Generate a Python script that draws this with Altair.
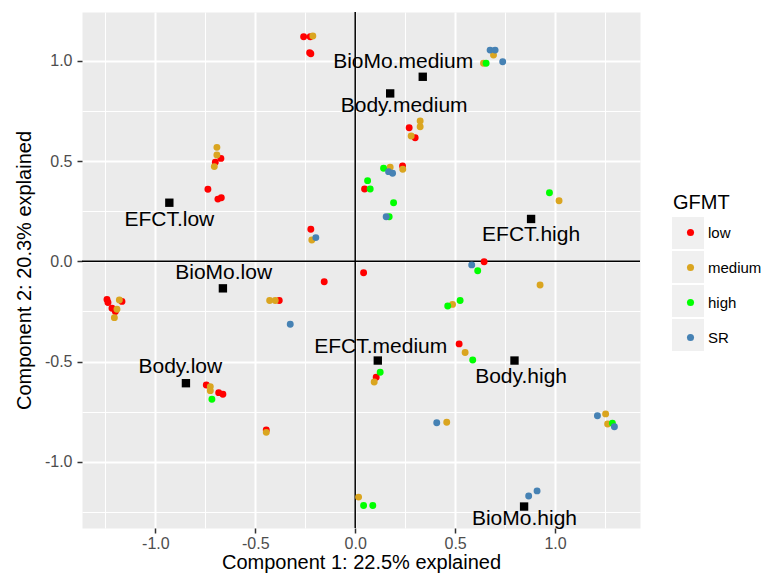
import altair as alt
import pandas as pd

low_x = [-0.258, -0.225, -0.228, -0.222, -0.672, -0.700, -0.737, -0.687, -0.670, -0.222,
         0.270, 0.300, 0.237, 0.047, 0.645, 0.042, -0.155,
         -1.242, -1.237, -1.217, -1.200, -1.167, -0.380,
         -0.745, -0.683, -0.662, -0.445, 0.520, 0.105]
low_y = [1.120, 1.120, 1.040, 1.035, 0.513, 0.494, 0.359, 0.310, 0.317, 0.160,
         0.666, 0.616, 0.475, 0.360, -0.002, -0.057, -0.102,
         -0.190, -0.206, -0.234, -0.251, -0.200, -0.196,
         -0.617, -0.655, -0.663, -0.841, -0.412, -0.578]

med_x = [-0.212, -0.692, -0.692, -0.705, -0.217, 0.692, 0.642, 0.325, 0.325, 0.280,
         0.175, 0.238, 1.020, -1.180, -1.192, -1.205, -0.428, -0.400, -0.725, -0.725,
         -0.445, 0.017, 0.925, 0.487, 0.550, 0.095, 0.458, 1.253, 1.263]
med_y = [1.123, 0.568, 0.530, 0.472, 0.106, 1.028, 0.987, 0.700, 0.671, 0.625,
         0.469, 0.459, 0.302, -0.193, -0.239, -0.281, -0.196, -0.196, -0.625, -0.645,
         -0.853, -1.176, -0.118, -0.215, -0.455, -0.602, -0.803, -0.761, -0.811]

high_x = [0.655, 0.142, 0.062, 0.075, 0.192, 0.170, 0.972, 0.613, -0.717, 0.042,
          0.088, 0.463, 0.525, 0.588, 0.125, 1.287]
high_y = [0.987, 0.464, 0.402, 0.360, 0.292, 0.222, 0.342, -0.047, -0.688, -1.218,
          -1.218, -0.223, -0.196, -0.492, -0.553, -0.808]

sr_x = [0.675, 0.700, 0.738, 0.167, 0.187, 0.155, -0.197, 0.583, -0.325, 0.408,
        1.212, 1.297, 0.868, 0.910]
sr_y = [1.053, 1.053, 0.995, 0.447, 0.439, 0.222, 0.118, -0.018, -0.314, -0.805,
        -0.770, -0.825, -1.170, -1.145]

groups = ["low", "medium", "high", "SR"]
group_colors = ["#FF0000", "#DAA520", "#00FF00", "#4682B4"]
key_ids = ["k1", "k2", "k3", "k4"]   # one grey legend key box per group

# ---- category centroids and their labels ----
cent_names = ["EFCT.low", "BioMo.low", "Body.low", "BioMo.medium", "Body.medium",
              "EFCT.medium", "EFCT.high", "Body.high", "BioMo.high"]
cent_x = [-0.930, -0.662, -0.847, 0.338, 0.175, 0.113, 0.880, 0.797, 0.845]
cent_y = [0.292, -0.135, -0.608, 0.920, 0.837, -0.495, 0.211, -0.495, -1.223]
lab_x = [-0.930, -0.658, -0.875, 0.240, 0.245, 0.128, 0.880, 0.830, 0.847]
lab_y = [0.206, -0.060, -0.526, 0.995, 0.774, -0.426, 0.131, -0.578, -1.286]

x_ticks = [-1.25, -1.0, -0.75, -0.5, -0.25, 0.0, 0.25, 0.5, 0.75, 1.0, 1.25]
y_ticks = [-1.25, -1.0, -0.75, -0.5, -0.25, 0.0, 0.25, 0.5, 0.75, 1.0]
x_domain = [-1.367, 1.425]
y_domain = [-1.33, 1.243]
zero_line = [0.0]

# ---- tables ----
rows = []
for g, k, xs_, ys_ in zip(groups, key_ids, [low_x, med_x, high_x, sr_x],
                          [low_y, med_y, high_y, sr_y]):
    for a, b in zip(xs_, ys_):
        rows.append({"x": a, "y": b, "GFMT": g, "key": k})
pts = pd.DataFrame(rows)
cents = pd.DataFrame({"name": cent_names, "x": cent_x, "y": cent_y, "lx": lab_x, "ly": lab_y})
zero = pd.DataFrame({"v": zero_line})

FONT = "Liberation Sans"
major = "abs(datum.value*2 - round(datum.value*2)) < 0.001"
lab_expr = ("abs(datum.value*2 - round(datum.value*2)) < 0.001 ? "
            "((datum.value < 0 ? '-' : '') + format(abs(datum.value), '.1f')) : ''")


def make_axis(title, vals, title_pad, lab_pad):
    return alt.Axis(
        title=title, values=vals, labelExpr=lab_expr,
        grid=True, gridColor="white",
        gridWidth={"condition": {"test": major, "value": 2}, "value": 1},
        tickColor="#333333", tickSize=5, tickWidth=1.5,
        tickOpacity={"condition": {"test": major, "value": 1}, "value": 0},
        domain=False, labelFont=FONT, labelFontSize=16, labelColor="#4D4D4D",
        labelPadding=lab_pad, titleFont=FONT, titleFontSize=20,
        titleFontWeight="normal", titleColor="black", titlePadding=title_pad,
    )


xs = alt.Scale(domain=x_domain, nice=False, zero=False)
ys = alt.Scale(domain=y_domain, nice=False, zero=False)

base_x = alt.X("x:Q", scale=xs, axis=make_axis("Component 1:  22.5% explained", x_ticks, 1, 2))
base_y = alt.Y("y:Q", scale=ys, axis=make_axis("Component 2:  20.3% explained", y_ticks, 10, 5))

vline = alt.Chart(zero).mark_rule(color="black", strokeWidth=1.5).encode(
    x=alt.X("v:Q", scale=xs))
hline = alt.Chart(zero).mark_rule(color="black", strokeWidth=1.5).encode(
    y=alt.Y("v:Q", scale=ys))

# empty layer that only supplies the grey legend key boxes
keys = alt.Chart(pts).transform_filter("false").mark_point(
    filled=True, color="#F0F0F0", opacity=1).encode(
    x=alt.X("x:Q", scale=xs), y=alt.Y("y:Q", scale=ys),
    shape=alt.Shape("key:N",
                    scale=alt.Scale(domain=key_ids, range=["square"] * 4),
                    sort=key_ids,
                    legend=alt.Legend(orient="none", legendX=590, legendY=173,
                                      title=" ", titleFont=FONT, titleFontSize=20,
                                      titleFontWeight="normal", titleColor="transparent",
                                      titlePadding=12, labelExpr="''", labelFont=FONT,
                                      labelFontSize=15, symbolSize=1024,
                                      symbolOffset=0, symbolOpacity=1,
                                      symbolFillColor="#F0F0F0",
                                      symbolStrokeColor="#F0F0F0", symbolStrokeWidth=0,
                                      rowPadding=2, zindex=0)),
)

points = alt.Chart(pts).mark_circle(size=48, opacity=1).encode(
    x=base_x, y=base_y,
    color=alt.Color("GFMT:N",
                    scale=alt.Scale(domain=groups, range=group_colors),
                    sort=groups,
                    legend=alt.Legend(orient="none", legendX=591, legendY=181,
                                      title="GFMT", titleFont=FONT, titleFontSize=20,
                                      titleFontWeight="normal", titleColor="black",
                                      titlePadding=12, labelFont=FONT, labelFontSize=15,
                                      labelColor="black", symbolType="circle",
                                      symbolSize=50, symbolOffset=10, labelOffset=10,
                                      rowPadding=19, zindex=1)),
)

squares = alt.Chart(cents).mark_square(size=70, color="black", opacity=1).encode(
    x=alt.X("x:Q", scale=xs), y=alt.Y("y:Q", scale=ys))

labels = alt.Chart(cents).mark_text(font=FONT, fontSize=21, color="black",
                                    align="center", baseline="middle").encode(
    x=alt.X("lx:Q", scale=xs), y=alt.Y("ly:Q", scale=ys), text="name:N")

chart = alt.layer(vline, hline, keys, points, squares, labels).properties(
    width=558, height=516,
    autosize=alt.AutoSizeParams(type="none"),
    padding={"left": 74, "top": 4, "right": 121, "bottom": 45},
).configure_view(fill="#EBEBEB", stroke="transparent")

chart.save("out.html", embed_options={"renderer": "svg", "actions": False})
